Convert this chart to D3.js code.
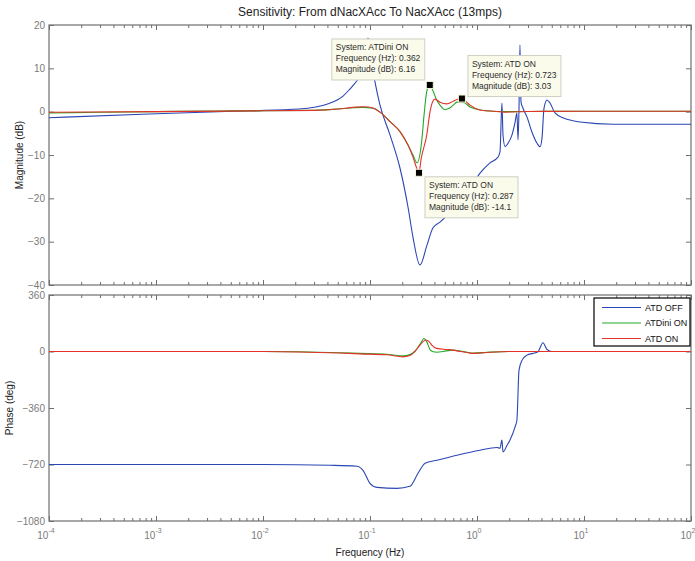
<!DOCTYPE html>
<html>
<head>
<meta charset="utf-8">
<script src="https://cdn.jsdelivr.net/npm/d3@7"></script>
<style>
  html, body { margin: 0; padding: 0; background: #fff; }
  svg { display: block; font-family: "Liberation Sans", Arial, Helvetica, sans-serif; }
</style>
</head>
<body>
<script>
// ---- Sensitivity Bode data (frequency in Hz, magnitude in dB, phase in deg) ----
const seriesNames = ["ATD OFF", "ATDini ON", "ATD ON"];
const seriesColors = ["#2a46b4", "#22aa2a", "#e4322a"];

const freqMagOff = [1e-4, 8.6e-4, 0.0074, 0.0217, 0.0414, 0.056, 0.0637, 0.068, 0.0807, 0.0898, 0.0957,
  0.1114, 0.124, 0.154, 0.1906, 0.2265, 0.2523, 0.293, 0.341, 0.388, 0.451, 0.56, 0.693, 0.861, 1.067,
  1.322, 1.57, 1.64, 1.71, 1.75, 1.83, 1.95, 2.12, 2.27, 2.36, 2.42, 2.47, 2.52, 2.58, 2.69, 2.93,
  3.26, 3.64, 3.88, 4.05, 4.23, 4.51, 4.81, 5.36, 6.36, 7.89, 9.18, 18.7, 100];
const magOff = [-1.4, -0.55, 0.2, 0.6, 1.9, 3.6, 5.0, 5.8, 8.5, 12.4, 17.0,
  6.8, 1.5, -5.4, -13.0, -22.0, -29.0, -35.4, -30.8, -26.8, -25.5, -23.3, -21.4, -18.0, -14.2,
  -11.8, -10.5, -9.3, 2.0, -5.4, -8.1, -7.3, -5.4, -2.4, -0.3, -6.5, 0.9, 15.4, 2.2, 0.8, -1.2,
  -4.7, -7.3, -8.1, -6.1, 0.8, 2.7, 2.0, -0.3, -1.4, -2.1, -2.4, -2.9, -2.9];

const freqMagIni = [1e-4, 3e-4, 1e-3, 0.003, 0.01, 0.03, 0.05, 0.07, 0.086, 0.1067, 0.124, 0.154, 0.1906,
  0.2265, 0.2523, 0.275, 0.304, 0.32, 0.339, 0.362, 0.391, 0.42, 0.451, 0.5, 0.55, 0.6, 0.65, 0.74,
  0.861, 1.067, 1.32, 1.8, 3, 10, 100];
const magIni = [-0.3, -0.15, 0.0, 0.15, 0.2, 0.3, 0.6, 0.9, 1.0, 0.8, -0.1, -2.3, -4.6,
  -7.7, -10.0, -11.8, -6.9, -0.8, 4.6, 6.16, 4.6, 2.7, 1.5, 0.5, 0.8, 1.5, 2.2, 2.2,
  1.1, 0.4, 0.15, 0.0, 0.05, 0.1, 0.1];

const freqMagOn = [1e-4, 1e-3, 0.01, 0.03, 0.05, 0.07, 0.086, 0.1067, 0.124, 0.154, 0.1906, 0.2265,
  0.2523, 0.275, 0.287, 0.30, 0.339, 0.364, 0.385, 0.405, 0.45, 0.52, 0.6, 0.65, 0.723, 0.8, 0.861,
  1.067, 1.32, 1.8, 3, 10, 100];
const magOn = [-0.15, 0.0, 0.2, 0.3, 0.6, 1.0, 1.15, 0.85, -0.1, -2.3, -4.6, -7.7,
  -10.5, -13.2, -14.1, -11.0, -5.4, 0.0, 2.3, 2.9, 2.2, 1.8, 2.4, 2.8, 3.03, 2.2, 1.5,
  0.4, 0.15, -0.1, 0.05, 0.1, 0.1];

const freqPhOff = [1e-4, 0.01, 0.0423, 0.0756, 0.086, 0.1, 0.116, 0.179, 0.236, 0.281, 0.327, 0.423,
  0.65, 1.067, 1.54, 1.64, 1.71, 1.75, 1.91, 2.03, 2.27, 2.36, 2.47, 2.64, 2.93, 3.34, 3.71, 4.14,
  4.51, 5.02, 100];
const phOff = [-720, -720, -725, -731, -757, -840, -866, -872, -859, -776, -712, -693,
  -661, -629, -612, -616, -565, -640, -597, -565, -480, -438, -119, -55, -23, -12, -2, 56,
  13, 0, 0];

const freqPhIni = [1e-4, 0.01, 0.0525, 0.0807, 0.144, 0.203, 0.236, 0.262, 0.293, 0.32, 0.34, 0.364,
  0.39, 0.423, 0.481, 0.597, 0.7, 0.807, 0.918, 1.24, 2, 100];
const phIni = [0, 0, -8, -12, -18, -28, -20, 0, 45, 83, 60, 12,
  -2, -5, 0, 9, 3, -5, -10, -5, 0, 0];

const freqPhOn = [1e-4, 0.01, 0.0525, 0.0807, 0.144, 0.203, 0.236, 0.262, 0.293, 0.332, 0.36, 0.378,
  0.42, 0.525, 0.597, 0.7, 0.807, 0.918, 1.24, 2, 100];
const phOn = [0, 0, -10, -15, -21, -34, -25, 0, 40, 73, 60, 41,
  20, 13, 9, 0, -6, -12, -6, 0, 0];

const magTicks = [-40, -30, -20, -10, 0, 10, 20];
const phaseTicks = [-1080, -720, -360, 0, 360];
const decadeExps = [-4, -3, -2, -1, 0, 1, 2];

// data tips: series index, frequency, magnitude
const tipSeries = [1, 2, 2];
const tipFreq = [0.362, 0.723, 0.287];
const tipMag = [6.16, 3.03, -14.1];

// ---- layout ----
const W = 695, H = 561;
const left = 49, right = 691;
const magTop = 25, magBot = 285, phTop = 295, phBot = 521;

const svg = d3.select("body").append("svg").attr("width", W).attr("height", H);

const x = d3.scaleLog().domain([1e-4, 1e2]).range([left, right]);
const yMag = d3.scaleLinear().domain([-40, 20]).range([magBot, magTop]);
const yPh = d3.scaleLinear().domain([-1080, 360]).range([phBot, phTop]);

const majorX = decadeExps.map(e => Math.pow(10, e));
const minorX = [];
decadeExps.slice(0, -1).forEach(e => { for (let k = 2; k <= 9; k++) minorX.push(k * Math.pow(10, e)); });

const axisColor = "#6f6f6f";
const tickText = "#7a7a7a";

function frame(yScale, top, bot, yTicks) {
  const g = svg.append("g");
  // x ticks, bottom and top, pointing inward
  g.append("g").attr("transform", `translate(0,${bot})`)
    .call(d3.axisBottom(x).tickValues(majorX).tickSize(-5).tickFormat(""));
  g.append("g").attr("transform", `translate(0,${bot})`)
    .call(d3.axisBottom(x).tickValues(minorX).tickSize(-3).tickFormat(""));
  g.append("g").attr("transform", `translate(0,${top})`)
    .call(d3.axisTop(x).tickValues(majorX).tickSize(-5).tickFormat(""));
  g.append("g").attr("transform", `translate(0,${top})`)
    .call(d3.axisTop(x).tickValues(minorX).tickSize(-3).tickFormat(""));
  // y ticks left (labelled) and right
  g.append("g").attr("transform", `translate(${left},0)`)
    .call(d3.axisLeft(yScale).tickValues(yTicks).tickSize(-5).tickPadding(4).tickFormat(d3.format("d")));
  g.append("g").attr("transform", `translate(${right},0)`)
    .call(d3.axisRight(yScale).tickValues(yTicks).tickSize(-5).tickFormat(""));
  g.selectAll(".domain").remove();
  g.selectAll(".tick line").attr("stroke", axisColor);
  g.selectAll(".tick text").attr("fill", tickText).style("font-size", "10px")
    .style("font-family", "'Liberation Sans', Arial, sans-serif");
  g.append("rect").attr("x", left).attr("y", top).attr("width", right - left).attr("height", bot - top)
    .attr("fill", "none").attr("stroke", axisColor).attr("stroke-width", 1.2);
}

frame(yMag, magTop, magBot, magTicks);
frame(yPh, phTop, phBot, phaseTicks);

// decade labels 10^n under the phase axes
const xl = svg.append("g").attr("fill", tickText).style("font-size", "10px");
decadeExps.forEach(e => {
  const t = xl.append("text").attr("x", x(Math.pow(10, e)) - 3).attr("y", 539).attr("text-anchor", "middle");
  t.append("tspan").text("10");
  t.append("tspan").attr("dy", -6).style("font-size", "7px").text(String(e));
});

// clip regions
const defs = svg.append("defs");
defs.append("clipPath").attr("id", "clipMag").append("rect")
  .attr("x", left).attr("y", magTop).attr("width", right - left).attr("height", magBot - magTop);
defs.append("clipPath").attr("id", "clipPh").append("rect")
  .attr("x", left).attr("y", phTop).attr("width", right - left).attr("height", phBot - phTop);

function drawCurve(clip, yScale, freqs, vals, color) {
  const pts = freqs.map((f, i) => [f, vals[i]]);
  const line = d3.line().x(d => x(d[0])).y(d => yScale(d[1])).curve(d3.curveMonotoneX);
  svg.append("path").attr("clip-path", `url(#${clip})`).datum(pts)
    .attr("d", line).attr("fill", "none").attr("stroke", color).attr("stroke-width", 1.1)
    .attr("stroke-linejoin", "round");
}

drawCurve("clipMag", yMag, freqMagOff, magOff, seriesColors[0]);
drawCurve("clipMag", yMag, freqMagIni, magIni, seriesColors[1]);
drawCurve("clipMag", yMag, freqMagOn, magOn, seriesColors[2]);
drawCurve("clipPh", yPh, freqPhOff, phOff, seriesColors[0]);
drawCurve("clipPh", yPh, freqPhIni, phIni, seriesColors[1]);
drawCurve("clipPh", yPh, freqPhOn, phOn, seriesColors[2]);

// data tips
const tipOffsets = [[-98, -46], [6, -43], [6, 4]];
tipSeries.forEach((s, i) => {
  const px = x(tipFreq[i]), py = yMag(tipMag[i]);
  const [dx, dy] = tipOffsets[i];
  const g = svg.append("g").attr("transform", `translate(${px + dx},${py + dy})`);
  const lines = [
    "System: " + seriesNames[s],
    "Frequency (Hz): " + tipFreq[i],
    "Magnitude (dB): " + tipMag[i]
  ];
  g.append("rect").attr("width", 93).attr("height", 41).attr("fill", "#fbfbeb")
    .attr("stroke", "#cfcfc4").attr("stroke-width", 1);
  lines.forEach((l, j) => {
    g.append("text").attr("x", 4).attr("y", 11 + j * 11).attr("fill", "#2b2b2b")
      .style("font-size", "8.5px").text(l);
  });
  svg.append("rect").attr("x", px - 3.5).attr("y", py - 3.5).attr("width", 7).attr("height", 7)
    .attr("fill", "#000").attr("stroke", "#f4f4d8").attr("stroke-width", 1);
});

// legend
const lg = svg.append("g").attr("transform", "translate(594,298)");
lg.append("rect").attr("width", 96).attr("height", 48).attr("fill", "#fff")
  .attr("stroke", "#000").attr("stroke-width", 1.2);
seriesNames.forEach((n, i) => {
  const yy = 9.5 + i * 15.5;
  lg.append("line").attr("x1", 8).attr("x2", 47).attr("y1", yy).attr("y2", yy)
    .attr("stroke", seriesColors[i]).attr("stroke-width", 1.1);
  lg.append("text").attr("x", 51).attr("y", yy + 3.2).attr("fill", "#111")
    .style("font-size", "9px").text(n);
});

// titles and axis labels
svg.append("text").attr("x", (left + right) / 2).attr("y", 16).attr("text-anchor", "middle")
  .attr("fill", "#222").style("font-size", "12px")
  .text("Sensitivity: From dNacXAcc To NacXAcc (13mps)");
svg.append("text").attr("transform", `translate(23,${(magTop + magBot) / 2}) rotate(-90)`)
  .attr("text-anchor", "middle").attr("fill", "#222").style("font-size", "10px").text("Magnitude (dB)");
svg.append("text").attr("transform", `translate(13,${(phTop + phBot) / 2}) rotate(-90)`)
  .attr("text-anchor", "middle").attr("fill", "#222").style("font-size", "10px").text("Phase (deg)");
svg.append("text").attr("x", (left + right) / 2).attr("y", 556).attr("text-anchor", "middle")
  .attr("fill", "#222").style("font-size", "10px").text("Frequency  (Hz)");
</script>
</body>
</html>
